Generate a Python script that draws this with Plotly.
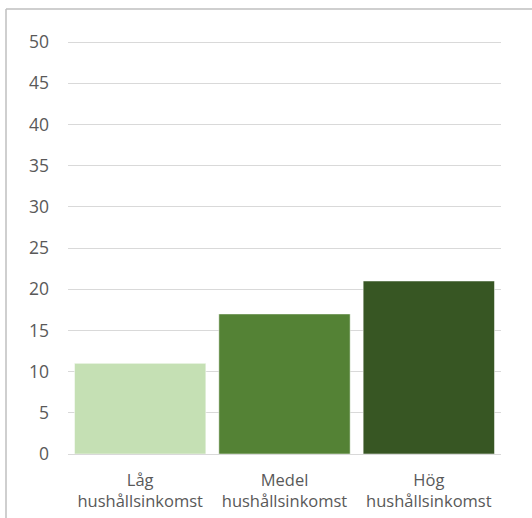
import plotly.graph_objects as go

categories = ["Låg<br>hushållsinkomst", "Medel<br>hushållsinkomst", "Hög<br>hushållsinkomst"]
values = [11, 17, 21]
bar_colors = ["#C5E0B4", "#548235", "#375623"]
y_ticks = [0, 5, 10, 15, 20, 25, 30, 35, 40, 45, 50]

W, H = 532, 518
ml, mr, mt, mb = 68, 31, 40, 64
pw, ph = W - ml - mr, H - mt - mb

fig = go.Figure(
    go.Bar(
        x=categories,
        y=values,
        marker=dict(color=bar_colors, line=dict(color="#FFFFFF", width=0.5)),
        hoverinfo="skip",
    )
)

# frame of the chart area (left and top edges)
fx = (6 - ml) / pw
fy = 1 + (mt - 9) / ph
fig.add_shape(type="line", xref="paper", yref="paper", x0=fx, x1=fx, y0=fy, y1=-2,
              line=dict(color="#BFBFBF", width=1.5))
fig.add_shape(type="line", xref="paper", yref="paper", x0=fx, x1=2, y0=fy, y1=fy,
              line=dict(color="#BFBFBF", width=1.5))

fig.update_layout(
    width=W,
    height=H,
    margin=dict(l=ml, r=mr, t=mt, b=mb, autoexpand=False),
    paper_bgcolor="white",
    plot_bgcolor="white",
    bargap=0.09,
    showlegend=False,
    font=dict(family="Open Sans", size=15, color="#595959"),
    xaxis=dict(
        showgrid=False,
        showline=True,
        linecolor="#D9D9D9",
        linewidth=1,
        ticks="",
        ticklabelstandoff=11,
        tickfont=dict(size=16.5, color="#595959"),
        automargin=False,
        fixedrange=True,
    ),
    yaxis=dict(
        range=[0, 50.25],
        tickvals=y_ticks,
        showgrid=True,
        gridcolor="#D9D9D9",
        gridwidth=1,
        zeroline=False,
        showline=False,
        ticks="",
        ticklabelstandoff=18,
        tickfont=dict(size=17.5, color="#595959"),
        automargin=False,
        fixedrange=True,
    ),
)

fig.write_html("out.html")
